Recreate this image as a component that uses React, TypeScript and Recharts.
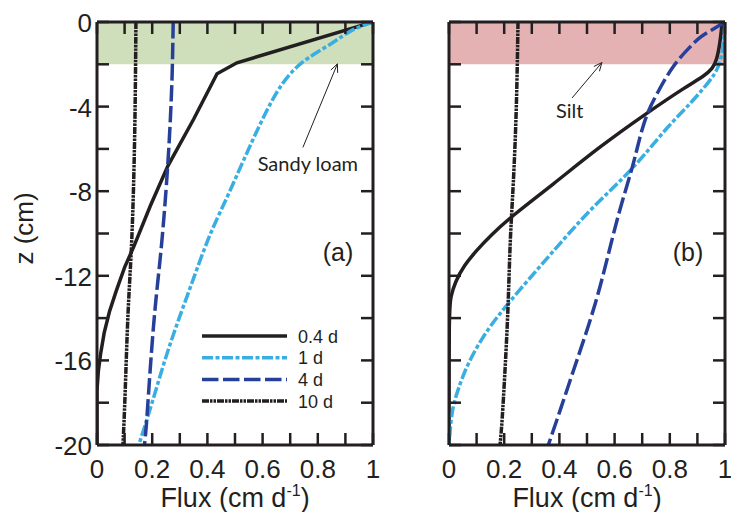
import React from "react";
import {
  LineChart,
  Line,
  XAxis,
  YAxis,
  ReferenceArea,
  ReferenceLine,
  ReferenceDot,
  Legend,
} from "recharts";

// ---------- data ----------
const xTicks = [0, 0.1, 0.2, 0.3, 0.4, 0.5, 0.6, 0.7, 0.8, 0.9, 1];
const yTicks = [-20, -18, -16, -14, -12, -10, -8, -6, -4, -2, 0];
const seriesNames = ["0.4 d", "1 d", "4 d", "10 d"];

// Panel (a): sandy loam
const sandyLoam04d = [
  { flux: 1, z: 0 },
  { flux: 0.507, z: -1.93 },
  { flux: 0.435, z: -2.45 },
  { flux: 0.35, z: -4.6 },
  { flux: 0.257, z: -6.8 },
  { flux: 0.193, z: -8.7 },
  { flux: 0.134, z: -10.6 },
  { flux: 0.1, z: -11.6 },
  { flux: 0.07, z: -12.7 },
  { flux: 0.045, z: -13.7 },
  { flux: 0.026, z: -14.7 },
  { flux: 0.013, z: -15.7 },
  { flux: 0.005, z: -16.5 },
  { flux: 0, z: -17.4 },
  { flux: 0, z: -20 },
];
const sandyLoam1d = [
  { flux: 1, z: 0 },
  { flux: 0.917, z: -0.38 },
  { flux: 0.855, z: -1.0 },
  { flux: 0.76, z: -1.7 },
  { flux: 0.7, z: -2.4 },
  { flux: 0.655, z: -3.2 },
  { flux: 0.61, z: -4.3 },
  { flux: 0.565, z: -5.55 },
  { flux: 0.515, z: -7 },
  { flux: 0.468, z: -8.4 },
  { flux: 0.405, z: -10.1 },
  { flux: 0.337, z: -12.6 },
  { flux: 0.286, z: -14.4 },
  { flux: 0.24, z: -16.2 },
  { flux: 0.198, z: -18.1 },
  { flux: 0.156, z: -19.8 },
  { flux: 0.152, z: -20 },
];
const sandyLoam4d = [
  { flux: 0.276, z: 0 },
  { flux: 0.273, z: -2.5 },
  { flux: 0.266, z: -4.6 },
  { flux: 0.257, z: -6.8 },
  { flux: 0.235, z: -10.6 },
  { flux: 0.21, z: -13.4 },
  { flux: 0.192, z: -16.5 },
  { flux: 0.178, z: -19.3 },
  { flux: 0.172, z: -20 },
];
const sandyLoam10d = [
  { flux: 0.141, z: 0 },
  { flux: 0.138, z: -5.2 },
  { flux: 0.127, z: -10.6 },
  { flux: 0.112, z: -13.4 },
  { flux: 0.101, z: -18.1 },
  { flux: 0.094, z: -20 },
];

// Panel (b): silt
const silt04d = [
  { flux: 0.99, z: 0 },
  { flux: 0.982, z: -1 },
  { flux: 0.97, z: -1.8 },
  { flux: 0.955, z: -2.2 },
  { flux: 0.925, z: -2.55 },
  { flux: 0.86, z: -3.05 },
  { flux: 0.717, z: -4.3 },
  { flux: 0.54, z: -5.95 },
  { flux: 0.375, z: -7.7 },
  { flux: 0.23, z: -9.15 },
  { flux: 0.15, z: -10.1 },
  { flux: 0.1, z: -10.8 },
  { flux: 0.055, z: -11.5 },
  { flux: 0.022, z: -12.3 },
  { flux: 0.006, z: -13 },
  { flux: 0, z: -13.6 },
  { flux: 0, z: -20 },
];
const silt1d = [
  { flux: 1, z: 0 },
  { flux: 0.995, z: -1 },
  { flux: 0.985, z: -1.8 },
  { flux: 0.97, z: -2.3 },
  { flux: 0.95, z: -2.7 },
  { flux: 0.88, z: -3.8 },
  { flux: 0.79, z: -4.95 },
  { flux: 0.668, z: -6.96 },
  { flux: 0.523, z: -8.69 },
  { flux: 0.39, z: -10.65 },
  { flux: 0.32, z: -11.7 },
  { flux: 0.221, z: -13.2 },
  { flux: 0.14, z: -14.5 },
  { flux: 0.068, z: -16.1 },
  { flux: 0.029, z: -17.5 },
  { flux: 0.01, z: -18.4 },
  { flux: 0.003, z: -19.5 },
  { flux: 0, z: -20 },
];
const silt4d = [
  { flux: 1, z: 0 },
  { flux: 0.955, z: -0.35 },
  { flux: 0.91, z: -0.7 },
  { flux: 0.873, z: -1.17 },
  { flux: 0.808, z: -2.1 },
  { flux: 0.753, z: -3.4 },
  { flux: 0.717, z: -4.3 },
  { flux: 0.69, z: -5.5 },
  { flux: 0.667, z: -6.8 },
  { flux: 0.622, z: -8.7 },
  { flux: 0.59, z: -10.3 },
  { flux: 0.547, z: -12.6 },
  { flux: 0.5, z: -14.6 },
  { flux: 0.45, z: -16.5 },
  { flux: 0.402, z: -18.4 },
  { flux: 0.365, z: -19.8 },
  { flux: 0.36, z: -20 },
];
const silt10d = [
  { flux: 0.25, z: 0 },
  { flux: 0.245, z: -4.1 },
  { flux: 0.233, z: -7.8 },
  { flux: 0.221, z: -10.3 },
  { flux: 0.215, z: -13.4 },
  { flux: 0.203, z: -16.5 },
  { flux: 0.192, z: -19 },
  { flux: 0.185, z: -20 },
];

// annotation anchors (data coordinates)
const sandyArrow = [
  { flux: 0.746, z: -5.93 },
  { flux: 0.871, z: -1.98 },
];
const siltArrow = [
  { flux: 0.446, z: -3.59 },
  { flux: 0.554, z: -1.92 },
];
const sandyText = { flux: 0.764, z: -7.06, text: "Sandy loam" };
const siltText = { flux: 0.437, z: -4.56, text: "Silt" };
const panelTagA = { flux: 0.873, z: -11.28, text: "(a)" };
const panelTagB = { flux: 0.866, z: -11.28, text: "(b)" };
const layerTop = 0;
const layerBottom = -2;

// ---------- styles ----------
const INK = "#231f20";
const FONT = "'Liberation Sans', Arial, Helvetica, sans-serif";
const ANNOT_FONT = "Lato, 'Liberation Sans', sans-serif";
const TICK = 12; // inward tick length
const seriesStyle = [
  { color: INK, dash: undefined as string | undefined, width: 3.5, curve: "linear" },
  { color: "#3aaee2", dash: "11 2.5 4 2.5", width: 3.5, curve: "basis" },
  { color: "#26409a", dash: "16.5 4.5", width: 3.5, curve: "basis" },
  { color: INK, dash: "7 1 2.5 1 2.5 1", width: 3.5, curve: "basis" },
];
const siltCurves = ["basis", "basis", "basis", "basis"];

const isMajorX = (v: number) => Math.abs(v * 5 - Math.round(v * 5)) < 1e-6;
const isMajorY = (v: number) => Math.abs(v / 4 - Math.round(v / 4)) < 1e-6;
const fmtX = (v: number) => (v === 0 ? "0" : v === 1 ? "1" : v.toFixed(1));

const tickLineStyle = { stroke: INK, strokeWidth: 2.5 };

// bottom: p.y = axisY - TICK
const BottomTick = (p: any) => {
  const v = p.payload.value;
  const axisY = p.y + TICK;
  if (!isMajorX(v)) return <g />;
  return (
    <text x={p.x} y={axisY + 33} textAnchor="middle" fontSize={26} fontFamily={FONT} fill={INK}>
      {fmtX(v)}
    </text>
  );
};
const EmptyTick = () => <g />;
// left: p.x = axisX + TICK
const makeLeftTick = (showLabel: boolean) => (p: any) => {
  const v = p.payload.value;
  const axisX = p.x - TICK;
  if (!showLabel || !isMajorY(v)) return <g />;
  return (
    <text x={axisX - 5} y={p.y + 10} textAnchor="end" fontSize={26} fontFamily={FONT} fill={INK}>
      {String(v)}
    </text>
  );
};

const FluxLabel = (p: any) => {
  const vb = p.viewBox;
  return (
    <text x={vb.x + vb.width / 2} y={vb.y + 62} textAnchor="middle" fontSize={27} fontFamily={FONT} fill={INK}>
      Flux (cm d
      <tspan dy={-11} fontSize={16}>-1</tspan>
      <tspan dy={11}>)</tspan>
    </text>
  );
};
const ZLabel = (p: any) => {
  const vb = p.viewBox;
  const cx = vb.x - 4;
  const cy = vb.y + vb.height / 2 - 5;
  return (
    <text x={cx} y={cy} transform={`rotate(-90, ${cx}, ${cy})`} textAnchor="middle" fontSize={26} fontFamily={FONT} fill={INK}>
      z (cm)
    </text>
  );
};

const Arrow = (p: any) => {
  const { x1, y1, x2, y2 } = p;
  const ang = Math.atan2(y2 - y1, x2 - x1);
  const L = 9;
  const a = 0.42;
  const hx1 = x2 - L * Math.cos(ang - a);
  const hy1 = y2 - L * Math.sin(ang - a);
  const hx2 = x2 - L * Math.cos(ang + a);
  const hy2 = y2 - L * Math.sin(ang + a);
  return (
    <g>
      <line x1={x1} y1={y1} x2={x2} y2={y2} stroke={INK} strokeWidth={1} />
      <polyline points={`${hx1},${hy1} ${x2},${y2} ${hx2},${hy2}`} fill="none" stroke={INK} strokeWidth={1} />
    </g>
  );
};

const textShape = (text: string, size: number, font: string) => (p: any) => (
  <text x={p.cx} y={p.cy} textAnchor="middle" fontSize={size} fontFamily={font} fill={INK}>
    {text}
  </text>
);

const LegendBox = () => (
  <svg width={180} height={90}>
    {seriesNames.map((name, i) => {
      const s = seriesStyle[i];
      const y = 10 + i * 21.7;
      return (
        <g key={name}>
          <line x1={2} y1={y} x2={87} y2={y} stroke={s.color} strokeWidth={s.width} strokeDasharray={s.dash} />
          <text x={98} y={y + 6.5} fontSize={18} fontFamily={FONT} fill={INK}>
            {name}
          </text>
        </g>
      );
    })}
  </svg>
);

type PanelProps = {
  series: { flux: number; z: number }[][];
  curves: string[];
  band: string;
  width: number;
  margin: { top: number; right: number; bottom: number; left: number };
  showYLabels: boolean;
  showLegend: boolean;
  arrow: { flux: number; z: number }[];
  note: { flux: number; z: number; text: string };
  tag: { flux: number; z: number; text: string };
};

const axisLine = { stroke: INK, strokeWidth: 3 };

function Panel(props: PanelProps) {
  const { series, curves, band, width, margin, showYLabels, showLegend, arrow, note, tag } = props;
  return (
    <LineChart width={width} height={512} margin={margin}>
      <ReferenceArea x1={0} x2={1} y1={layerBottom} y2={layerTop} fill={band} fillOpacity={1} stroke="none" />
      <XAxis
        type="number"
        dataKey="flux"
        domain={[0, 1]}
        ticks={xTicks}
        interval={0}
        allowDataOverflow
        height={62}
        tickSize={-TICK}
        tickMargin={0}
        tickLine={tickLineStyle}
        axisLine={axisLine}
        tick={BottomTick}
        label={FluxLabel}
      />
      <XAxis
        xAxisId="top"
        orientation="top"
        type="number"
        dataKey="flux"
        domain={[0, 1]}
        ticks={xTicks}
        interval={0}
        allowDataOverflow
        height={2}
        tickSize={-TICK}
        tickMargin={0}
        tickLine={tickLineStyle}
        axisLine={axisLine}
        tick={EmptyTick}
      />
      <YAxis
        type="number"
        domain={[-20, 0]}
        ticks={yTicks}
        interval={0}
        allowDataOverflow
        width={60}
        tickSize={-TICK}
        tickMargin={0}
        tickLine={tickLineStyle}
        axisLine={axisLine}
        tick={makeLeftTick(showYLabels)}
        label={showYLabels ? ZLabel : undefined}
      />
      <YAxis
        yAxisId="right"
        orientation="right"
        type="number"
        domain={[-20, 0]}
        ticks={yTicks}
        interval={0}
        allowDataOverflow
        width={2}
        tickSize={-TICK}
        tickMargin={0}
        tickLine={tickLineStyle}
        axisLine={axisLine}
        tick={EmptyTick}
      />
      {series.map((d, i) => (
        <Line
          key={seriesNames[i]}
          name={seriesNames[i]}
          data={d}
          dataKey="z"
          type={curves[i] as any}
          stroke={seriesStyle[i].color}
          strokeWidth={seriesStyle[i].width}
          strokeDasharray={seriesStyle[i].dash}
          dot={false}
          activeDot={false}
          isAnimationActive={false}
        />
      ))}
      <ReferenceLine
        segment={[
          { x: arrow[0].flux, y: arrow[0].z },
          { x: arrow[1].flux, y: arrow[1].z },
        ]}
        shape={Arrow}
        ifOverflow="visible"
      />
      <ReferenceDot x={note.flux} y={note.z} r={1} shape={textShape(note.text, 20, ANNOT_FONT)} ifOverflow="visible" />
      <ReferenceDot x={tag.flux} y={tag.z} r={1} shape={textShape(tag.text, 25, FONT)} ifOverflow="visible" />
      {showLegend && (
        <Legend
          layout="vertical"
          align="center"
          verticalAlign="middle"
          content={LegendBox}
          wrapperStyle={{ position: "absolute", left: 200, top: 326, width: 180, height: 90 }}
        />
      )}
    </LineChart>
  );
}

export default function App() {
  return (
    <div style={{ position: "absolute", left: 0, top: 0, width: 731, height: 512, background: "#ffffff" }}>
      <div style={{ position: "absolute", left: 0, top: 0 }}>
        <Panel
          series={[sandyLoam04d, sandyLoam1d, sandyLoam4d, sandyLoam10d]}
          curves={seriesStyle.map((s) => s.curve)}
          band="#cfdfbb"
          width={400}
          margin={{ top: 20, right: 25, bottom: 5, left: 37 }}
          showYLabels={true}
          showLegend={true}
          arrow={sandyArrow}
          note={sandyText}
          tag={panelTagA}
        />
      </div>
      <div style={{ position: "absolute", left: 360, top: 0 }}>
        <Panel
          series={[silt04d, silt1d, silt4d, silt10d]}
          curves={siltCurves}
          band="#e4b2b3"
          width={371}
          margin={{ top: 20, right: 4, bottom: 5, left: 29 }}
          showYLabels={false}
          showLegend={false}
          arrow={siltArrow}
          note={siltText}
          tag={panelTagB}
        />
      </div>
    </div>
  );
}
